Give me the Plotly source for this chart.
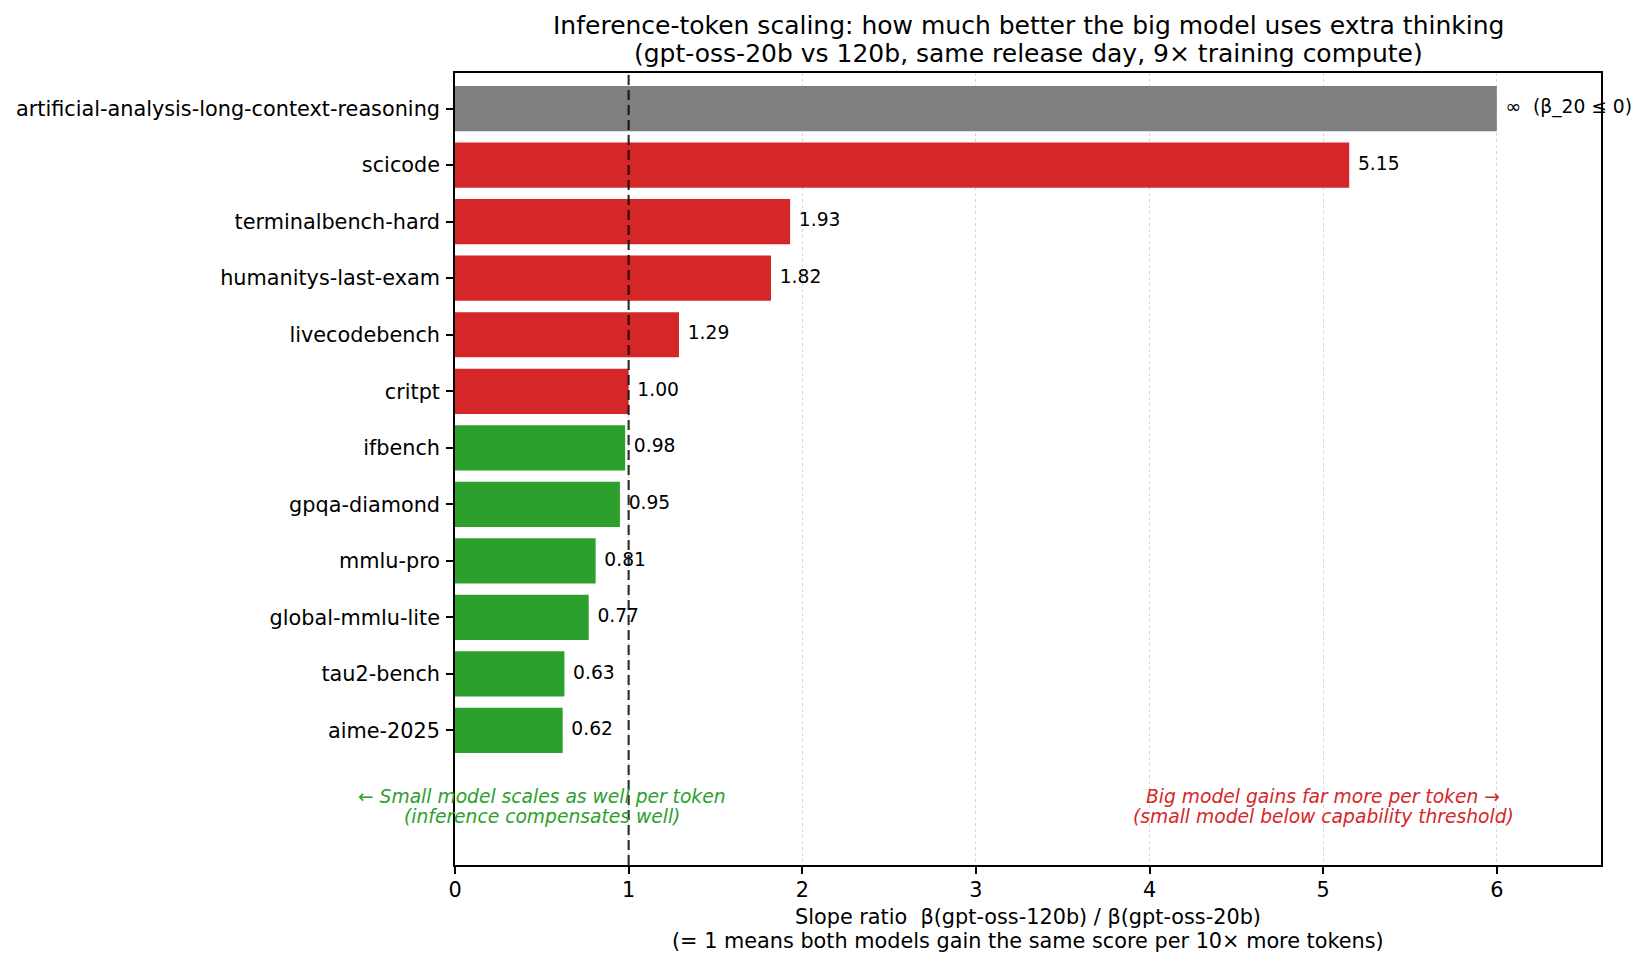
import plotly.graph_objects as go

categories = [
    "artificial-analysis-long-context-reasoning",
    "scicode",
    "terminalbench-hard",
    "humanitys-last-exam",
    "livecodebench",
    "critpt",
    "ifbench",
    "gpqa-diamond",
    "mmlu-pro",
    "global-mmlu-lite",
    "tau2-bench",
    "aime-2025",
]
ratios = [6.0, 5.15, 1.93, 1.82, 1.29, 1.00, 0.98, 0.95, 0.81, 0.77, 0.63, 0.62]
value_labels = ["∞  (β_20 ≤ 0)", "5.15", "1.93", "1.82", "1.29", "1.00",
                "0.98", "0.95", "0.81", "0.77", "0.63", "0.62"]
bar_colors = ["#7f7f7f"] + ["#d62728"] * 5 + ["#2ca02c"] * 6
xticks = [0, 1, 2, 3, 4, 5, 6]

title_lines = [
    "Inference-token scaling: how much better the big model uses extra thinking",
    "(gpt-oss-20b vs 120b, same release day, 9× training compute)",
]
xlabel_lines = [
    "Slope ratio  β(gpt-oss-120b) / β(gpt-oss-20b)",
    "(= 1 means both models gain the same score per 10× more tokens)",
]
green_lines = ["← Small model scales as well per token", "(inference compensates well)"]
red_lines = ["Big model gains far more per token →", "(small model below capability threshold)"]

FONT = "DejaVu Sans"
ypos = list(range(len(categories)))

fig = go.Figure()
fig.add_trace(go.Bar(
    x=ratios, y=ypos, orientation="h",
    marker=dict(color=bar_colors, line=dict(width=0)),
    width=0.8, showlegend=False, hoverinfo="skip",
))
fig.add_trace(go.Scatter(
    x=[r + 0.05 for r in ratios], y=ypos, mode="text",
    text=value_labels, textposition="middle right",
    textfont=dict(family=FONT, size=18.7, color="black"),
    cliponaxis=False, showlegend=False, hoverinfo="skip",
))

# reference line at ratio = 1
fig.add_shape(type="line", x0=1, x1=1, y0=0, y1=1, xref="x", yref="paper",
              line=dict(color="rgba(0,0,0,0.8)", width=2.2, dash="10px,5px"))

# region annotations
for i, (g, r) in enumerate(zip(green_lines, red_lines)):
    yy = [12.16, 12.53][i]
    fig.add_annotation(x=0.5, y=yy, xref="x", yref="y", text=f"<i>{g}</i>",
                       showarrow=False, font=dict(family=FONT, size=18.7, color="#2ca02c"),
                       xanchor="center", yanchor="middle")
    fig.add_annotation(x=5.0, y=yy, xref="x", yref="y", text=f"<i>{r}</i>",
                       showarrow=False, font=dict(family=FONT, size=18.7, color="#d62728"),
                       xanchor="center", yanchor="middle")

# title
for line, shift in zip(title_lines, [48, 20]):
    fig.add_annotation(x=0.5, y=1, xref="paper", yref="paper", yshift=shift,
                       text=line, showarrow=False,
                       font=dict(family=FONT, size=25, color="black"),
                       xanchor="center", yanchor="middle")

# x-axis label
for line, shift in zip(xlabel_lines, [-52, -76]):
    fig.add_annotation(x=0.5, y=0, xref="paper", yref="paper", yshift=shift,
                       text=line, showarrow=False,
                       font=dict(family=FONT, size=20.8, color="black"),
                       xanchor="center", yanchor="middle")

fig.update_layout(
    width=1647, height=966,
    margin=dict(l=455, r=46, t=73, b=101),
    paper_bgcolor="white", plot_bgcolor="white",
    font=dict(family=FONT, size=20.8, color="black"),
)
fig.update_xaxes(
    range=[0, 6.6], tickvals=xticks, ticktext=[str(t) for t in xticks],
    showline=True, linecolor="black", linewidth=1.6, mirror=True,
    ticks="outside", ticklen=7, tickwidth=1.6, tickcolor="black",
    ticklabelstandoff=-2,
    showgrid=True, gridcolor="rgba(0,0,0,0.16)", griddash="dot", gridwidth=1.4,
    zeroline=False, tickfont=dict(family=FONT, size=20.8),
)
fig.update_yaxes(
    range=[13.38, -0.63], tickvals=ypos, ticktext=categories,
    showline=True, linecolor="black", linewidth=1.6, mirror=True,
    ticks="outside", ticklen=7, tickwidth=1.6, tickcolor="black",
    ticklabelstandoff=2,
    showgrid=False, zeroline=False, tickfont=dict(family=FONT, size=20.8),
)

fig.write_html(
    "out.html",
    config={"displayModeBar": False},
    post_script="document.body.style.margin='0';document.body.style.overflow='hidden';",
)
